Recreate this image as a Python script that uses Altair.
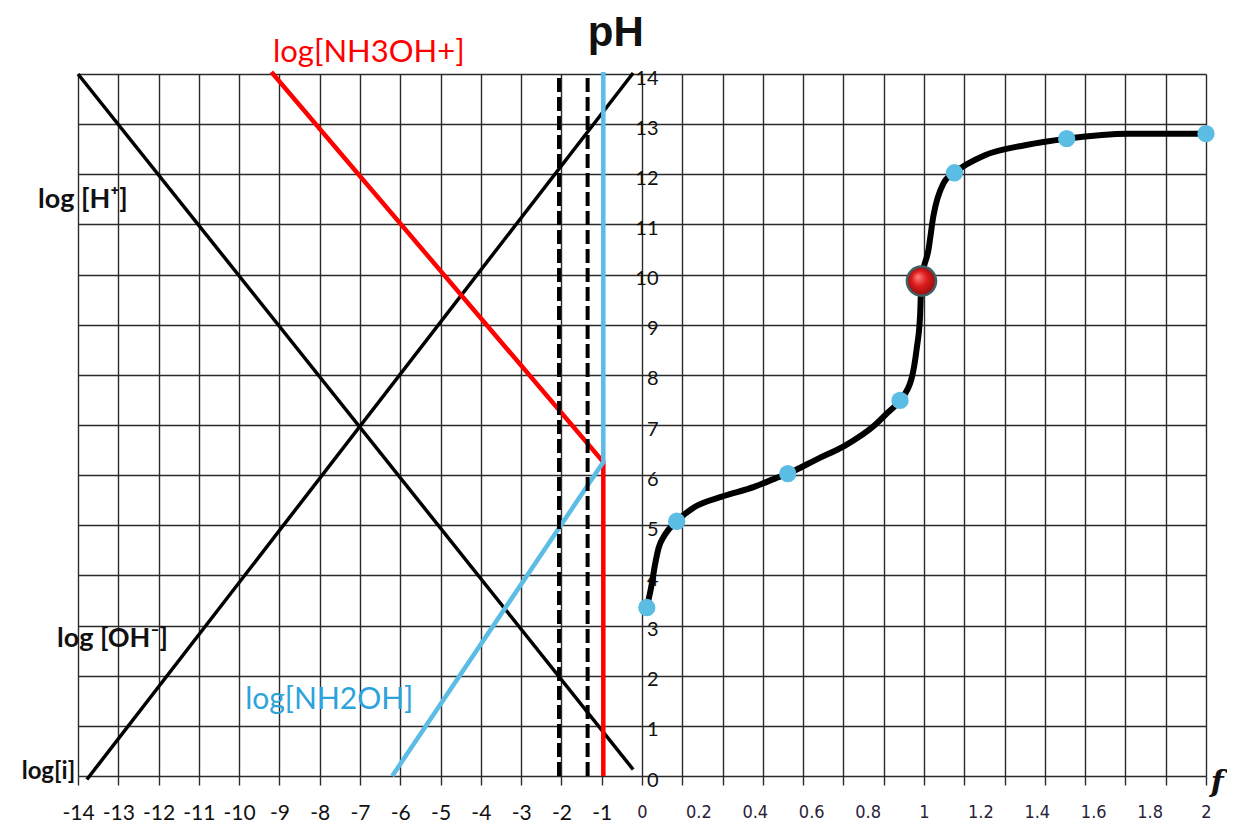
import altair as alt
import pandas as pd

# ---------------- data ----------------
# logarithmic diagram (x = log[i], y = pH)
h_x = [-14.0, -0.22]
h_y = [14.0, 0.13]
oh_x = [-13.78, -0.22]
oh_y = [-0.07, 14.02]
nh3oh_x = [-9.2, -0.96, -0.96]
nh3oh_y = [14.04, 6.26, 0.0]
nh2oh_x = [-6.2, -0.96, -0.96]
nh2oh_y = [0.0, 6.26, 14.04]
dashed_x = [-2.06, -1.35]

# titration curve (f, pH)
curve_f = [0.017, 0.034, 0.046, 0.059, 0.081, 0.123, 0.188, 0.283, 0.40, 0.471,
           0.517, 0.625, 0.72, 0.826, 0.872, 0.915, 0.956, 0.974, 0.986, 0.991,
           1.016, 1.033, 1.069, 1.108, 1.216, 1.358, 1.506, 1.723, 2.0]
curve_ph = [3.36, 3.81, 4.21, 4.55, 4.81, 5.08, 5.37, 5.57, 5.77, 5.93,
            6.03, 6.33, 6.59, 7.0, 7.25, 7.49, 7.93, 8.52, 9.17, 9.87,
            10.5, 11.16, 11.82, 12.03, 12.38, 12.58, 12.71, 12.81, 12.81]
dots_f = [0.017, 0.123, 0.517, 0.915, 1.108, 1.506, 2.0]
dots_ph = [3.36, 5.08, 6.03, 7.49, 12.03, 12.71, 12.81]
eq_f = [0.991]
eq_ph = [9.87]

log_ticks = list(range(-14, 15))
f_ticks = [0, 0.2, 0.4, 0.6, 0.8, 1, 1.2, 1.4, 1.6, 1.8, 2]
ph_ticks = list(range(0, 15))

# annotation texts with anchor points in data units (log[i], pH)
ann_text = ["pH", "log[NH3OH+]", "log [H\u207a]", "log [OH\u207b]", "log[NH2OH]", "log[i]", "f"]
ann_x = [-0.65, -9.16, -14.99, -14.52, -9.85, -14.07, 14.12]
ann_y = [14.56, 14.24, 11.32, 2.58, 1.33, -0.06, -0.32]

# ---------------- geometry ----------------
W, H = 1128, 702
xs = alt.Scale(domain=[-14, 14], nice=False, zero=False)
ys = alt.Scale(domain=[0, 14], nice=False, zero=False)
fs = alt.Scale(domain=[-2, 2], nice=False, zero=False)

GRID = "#2b2b2b"
xaxis1 = alt.Axis(values=log_ticks, grid=True, gridColor=GRID, gridWidth=1.4,
                  ticks=True, tickSize=9, tickColor=GRID, tickWidth=1.4,
                  domain=False, title=None, labelFlush=False, labelOverlap=False,
                  labelExpr="datum.value < 0 ? '' + datum.value : ''",
                  labelFont="Lato", labelFontSize=21, labelColor="#111",
                  labelPadding=17)
yaxis1 = alt.Axis(values=ph_ticks, grid=True, gridColor=GRID, gridWidth=1.4,
                  ticks=False, labels=False, domain=False, title=None)

xaxis2 = alt.Axis(values=f_ticks, orient="bottom", grid=False, ticks=False, domain=False,
                  title=None, labelFlush=False, labelOverlap=False,
                  labelExpr="datum.value >= 0 ? format(datum.value, '.1~f') : ''",
                  labelFont="Liberation Sans Narrow, DejaVu Sans Condensed, sans-serif",
                  labelFontSize=18, labelColor="#2a2238", labelPadding=27)
yaxis2 = alt.Axis(values=ph_ticks, orient="right", offset=-W / 2, grid=False, ticks=False,
                  domain=False, title=None, labelAlign="right", labelPadding=16,
                  labelFont="Lato", labelFontSize=20, labelColor="#111",
                  labelOffset=4, labelFlush=False, labelOverlap=False)


def line_df(name, xv, yv):
    return pd.DataFrame({"series": name, "o": list(range(len(xv))), "x": xv, "y": yv})


black_df = pd.concat([line_df("H", h_x, h_y), line_df("OH", oh_x, oh_y)])
red_df = line_df("NH3OH", nh3oh_x, nh3oh_y)
blue_df = line_df("NH2OH", nh2oh_x, nh2oh_y)


def enc_line(ch):
    return ch.encode(
        x=alt.X("x:Q", scale=xs, axis=xaxis1),
        y=alt.Y("y:Q", scale=ys, axis=yaxis1),
        detail="series:N",
        order="o:Q",
    )


black = enc_line(alt.Chart(black_df).mark_line(color="black", strokeWidth=3.5))
red = enc_line(alt.Chart(red_df).mark_line(color="#ff0000", strokeWidth=4.5))
blue = enc_line(alt.Chart(blue_df).mark_line(color="#5bbde6", strokeWidth=4.5))

dash_df = pd.DataFrame({"x": dashed_x, "y": [0] * len(dashed_x), "y2": [14] * len(dashed_x)})
dashed = alt.Chart(dash_df).mark_rule(color="black", strokeWidth=4, strokeDash=[14, 5]).encode(
    x=alt.X("x:Q", scale=xs, axis=xaxis1),
    y=alt.Y("y:Q", scale=ys, axis=yaxis1),
    y2="y2:Q",
)

ann = pd.DataFrame({"t": ann_text, "x": ann_x, "y": ann_y})
styles = {
    "pH": dict(font="Liberation Sans", fontSize=42, fontWeight="bold", color="#111",
               align="center"),
    "log[NH3OH+]": dict(font="Lato", fontSize=31, color="#ff0000", align="left"),
    "log [H\u207a]": dict(font="Lato", fontSize=27, fontWeight="bold", color="#111", align="left"),
    "log [OH\u207b]": dict(font="Lato", fontSize=27, fontWeight="bold", color="#111", align="left"),
    "log[NH2OH]": dict(font="Lato", fontSize=30, color="#2ea3db", align="left"),
    "log[i]": dict(font="Lato", fontSize=24, fontWeight="bold", color="#111", align="right"),
    "f": dict(font="DejaVu Serif", fontSize=30, fontStyle="italic", fontWeight="bold",
              color="#111", align="left"),
}
texts = []
for t in ann_text:
    texts.append(
        alt.Chart(ann[ann.t == t]).mark_text(baseline="alphabetic", **styles[t]).encode(
            x=alt.X("x:Q", scale=xs, axis=xaxis1),
            y=alt.Y("y:Q", scale=ys, axis=yaxis1),
            text="t:N",
        )
    )

group1 = alt.layer(black, red, blue, dashed, *texts)

curve_df = pd.DataFrame({"f": curve_f, "ph": curve_ph})
dots_df = pd.DataFrame({"f": dots_f, "ph": dots_ph})
eq_df = pd.DataFrame({"f": eq_f, "ph": eq_ph})


def enc_f(ch):
    return ch.encode(
        x=alt.X("f:Q", scale=fs, axis=xaxis2),
        y=alt.Y("ph:Q", scale=ys, axis=yaxis2),
    )


curve = enc_f(alt.Chart(curve_df).mark_line(color="black", strokeWidth=6,
                                             interpolate="monotone", strokeCap="round"))
dots = enc_f(alt.Chart(dots_df).mark_circle(color="#5bbce4", size=300, opacity=1))
sphere = alt.RadialGradient(
    gradient="radial",
    stops=[alt.GradientStop(color="#ff7a7a", offset=0),
           alt.GradientStop(color="#dd1c1c", offset=0.45),
           alt.GradientStop(color="#8a0a0a", offset=1)],
    x1=0.38, y1=0.35, r1=0.02, x2=0.5, y2=0.5, r2=0.55,
)
eq = enc_f(alt.Chart(eq_df).mark_circle(fill=sphere, stroke="#3e6168", strokeWidth=2.5,
                                         size=850, opacity=1, fillOpacity=1))

group2 = alt.layer(curve, dots, eq)

chart = (
    alt.layer(group1, group2)
    .resolve_scale(x="independent", y="independent")
    .properties(width=W, height=H, background="white",
                padding={"left": 70, "top": 66, "right": 21, "bottom": 48},
                autosize=alt.AutoSizeParams(type="none"))
    .configure_view(stroke=None)
)

chart.save("out.html", embed_options={"renderer": "svg", "actions": False})
